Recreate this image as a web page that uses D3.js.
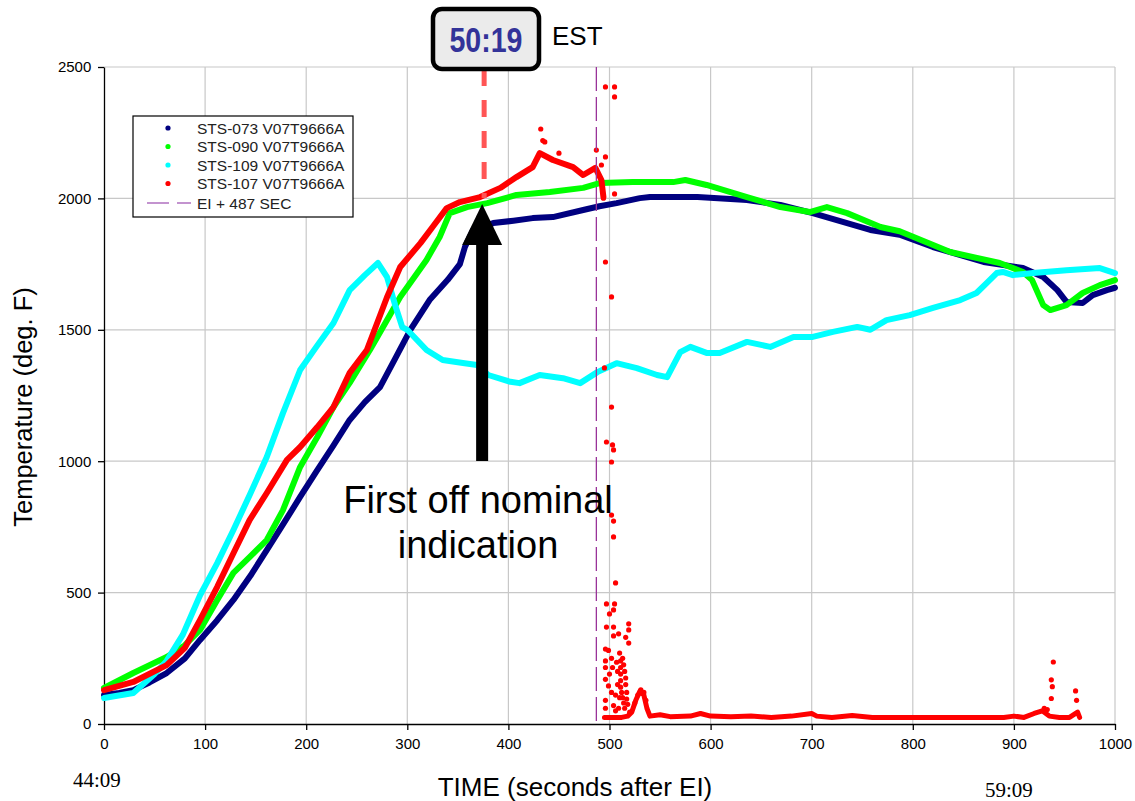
<!DOCTYPE html>
<html><head><meta charset="utf-8">
<script src="https://cdn.jsdelivr.net/npm/d3@7"></script>
<style>body{margin:0;background:#fff;} svg{display:block;}</style>
</head><body>
<svg id="chart" width="1135" height="801"></svg>
<script>
// ---------- data ----------
const xTicks = [0,100,200,300,400,500,600,700,800,900,1000];
const yTicks = [0,500,1000,1500,2000,2500];
const seriesNames = ["STS-073 V07T9666A","STS-090 V07T9666A","STS-109 V07T9666A","STS-107 V07T9666A"];
const seriesColors = ["#000080","#00ff00","#00ffff","#ff0000"];
const eiLabel = "EI + 487 SEC";
const eiTime = 487;
const markTime = 376;
const markLabel = "50:19";

const sts073 = [[0,110],[15,118],[29,129],[45,158],[62,194],[80,250],[95,320],[112,395],[128,472],[145,565],[161,662],[178,765],[194,864],[210,960],[227,1060],[243,1157],[258,1225],[273,1282],[288,1390],[303,1500],[322,1613],[340,1690],[352,1750],[357,1815],[365,1880],[385,1906],[405,1915],[424,1925],[444,1929],[474,1956],[490,1970],[507,1982],[530,2001],[540,2005],[587,2005],[636,1994],[669,1975],[701,1944],[735,1906],[758,1880],[787,1862],[820,1815],[870,1758],[909,1735],[929,1701],[943,1651],[952,1606],[968,1602],[978,1632],[992,1651],[1000,1660]];
const sts090 = [[0,137],[29,194],[62,255],[80,300],[95,358],[112,472],[128,575],[144,635],[161,700],[177,814],[194,978],[211,1092],[227,1206],[243,1298],[263,1423],[293,1625],[319,1766],[332,1853],[342,1944],[359,1967],[379,1982],[408,2013],[441,2024],[474,2040],[491,2059],[523,2062],[563,2062],[575,2070],[596,2051],[636,2005],[669,1967],[698,1948],[715,1967],[735,1944],[768,1891],[787,1875],[837,1796],[886,1754],[909,1720],[918,1689],[929,1594],[936,1575],[952,1594],[968,1640],[985,1670],[1000,1689]];
const sts109 = [[0,99],[29,118],[50,190],[62,240],[78,340],[95,490],[112,612],[128,738],[145,879],[161,1016],[177,1183],[194,1347],[210,1435],[227,1526],[243,1651],[258,1708],[271,1754],[280,1700],[288,1594],[295,1510],[300,1500],[319,1423],[335,1385],[355,1374],[369,1366],[380,1328],[402,1302],[411,1297],[431,1328],[454,1316],[471,1297],[488,1339],[507,1373],[527,1354],[547,1328],[557,1320],[570,1415],[580,1435],[596,1412],[609,1412],[636,1454],[659,1435],[682,1473],[701,1473],[721,1492],[745,1511],[758,1500],[774,1537],[797,1556],[820,1583],[847,1613],[863,1640],[873,1678],[883,1716],[889,1720],[899,1708],[919,1716],[952,1727],[985,1735],[1000,1716]];
const sts107 = [[0,129],[29,160],[62,224],[80,290],[95,396],[112,522],[128,650],[144,776],[161,879],[181,1005],[194,1054],[211,1130],[227,1206],[243,1336],[260,1423],[280,1625],[293,1739],[313,1830],[325,1891],[339,1963],[352,1986],[372,2005],[392,2040],[408,2081],[424,2119],[431,2172],[444,2146],[464,2119],[474,2089],[486,2116],[492,2070],[494,2005]];
const sts107Tail = [[495,25],[505,25],[512,25],[518,30],[522,45],[526,90],[530,125],[534,110],[537,60],[540,30],[550,35],[560,28],[580,30],[590,40],[600,30],[620,28],[640,30],[660,25],[680,30],[700,40],[705,30],[720,25],[740,32],[760,25],[800,25],[850,25],[890,25],[900,30],[910,25],[920,40],[928,50],[935,30],[945,25],[955,25],[963,45],[965,25]];
const sts107Scatter = [[432,2264],[434,2220],[436,2215],[450,2172],[487,2184],[496,2158],[492,2127],[496,2424],[505,2424],[505,2386],[505,2017],[494,2001],[496,1758],[502,1625],[495,1355],[502,1206],[497,1073],[503,1062],[504,1043],[502,997],[502,795],[504,772],[504,712],[506,537],[497,457],[505,457],[504,434],[500,419],[497,369],[504,369],[504,335],[509,343],[519,381],[519,358],[516,330],[519,308],[496,285],[499,280],[496,240],[496,215],[496,170],[499,145],[496,90],[496,60],[502,250],[503,215],[500,190],[502,120],[507,235],[508,200],[508,150],[510,270],[510,100],[511,240],[511,215],[511,190],[511,165],[511,140],[512,120],[513,100],[514,80],[513,250],[514,225],[515,200],[516,175],[516,150],[517,120],[517,95],[518,75],[509,60],[506,50],[515,60],[520,45],[504,70],[506,110],[525,80],[528,110],[531,130],[534,120],[536,90],[939,236],[937,168],[938,142],[937,97],[961,126],[962,90],[930,60],[933,55]];

// ---------- layout ----------
const svg = d3.select("#chart");
const L = 104, R = 1115, T = 67, B = 724;
const x = d3.scaleLinear().domain([0,1000]).range([L,R]);
const y = d3.scaleLinear().domain([0,2500]).range([B,T]);
const sans = "'Liberation Sans', Arial, sans-serif";

// gridlines
svg.append("g").selectAll("line").data(xTicks.slice(1)).join("line")
  .attr("x1",d=>x(d)).attr("x2",d=>x(d)).attr("y1",T).attr("y2",B)
  .attr("stroke","#c8c8c8").attr("stroke-width",1.2);
svg.append("g").selectAll("line").data(yTicks.slice(1)).join("line")
  .attr("x1",L).attr("x2",R).attr("y1",d=>y(d)).attr("y2",d=>y(d))
  .attr("stroke","#c8c8c8").attr("stroke-width",1.2);

// axes
const xAxis = svg.append("g").attr("transform",`translate(0,${B})`)
  .call(d3.axisBottom(x).tickValues(xTicks).tickSize(6).tickSizeOuter(0).tickFormat(d3.format("d")));
const yAxis = svg.append("g").attr("transform",`translate(${L},0)`)
  .call(d3.axisLeft(y).tickValues(yTicks).tickSize(6).tickSizeOuter(0).tickFormat(d3.format("d")));
[xAxis,yAxis].forEach(g=>{
  g.selectAll("path,line").attr("stroke","#000").attr("stroke-width",1.3);
  g.selectAll("text").attr("font-family",sans).attr("font-size",15).attr("fill","#000");
});
xAxis.selectAll("text").attr("dy","1.05em");
yAxis.selectAll("text").attr("dx","-0.25em");

// series lines
const line = d3.line().x(d=>x(d[0])).y(d=>y(d[1]));
const allSeries = [sts073, sts090, sts109, sts107];
allSeries.forEach((s,i)=>{
  svg.append("path").datum(s).attr("d",line).attr("fill","none")
    .attr("stroke",seriesColors[i]).attr("stroke-width",6)
    .attr("stroke-linejoin","round").attr("stroke-linecap","round");
});
svg.append("path").datum(sts107Tail).attr("d",line).attr("fill","none")
  .attr("stroke",seriesColors[3]).attr("stroke-width",5)
  .attr("stroke-linejoin","round").attr("stroke-linecap","round");
svg.append("g").selectAll("circle").data(sts107Scatter).join("circle")
  .attr("cx",d=>x(d[0])).attr("cy",d=>y(d[1])).attr("r",2.6).attr("fill",seriesColors[3]);

// EI + 487 line
svg.append("line").attr("x1",x(eiTime)).attr("x2",x(eiTime)).attr("y1",T).attr("y2",B)
  .attr("stroke","#993399").attr("stroke-width",1.3).attr("stroke-dasharray","24,6");

// red dashed marker line
svg.append("line").attr("x1",x(markTime)).attr("x2",x(markTime)).attr("y1",69).attr("y2",198)
  .attr("stroke","#ff5555").attr("stroke-width",5).attr("stroke-dasharray","17,14");

// arrow
const ax = x(markTime) - 2;
svg.append("rect").attr("x",ax-6).attr("y",240).attr("width",12).attr("height",221).attr("fill","#000");
svg.append("path").attr("d",`M${ax},204 L${ax+20},245 L${ax-20},245 Z`).attr("fill","#000");

// annotation text
svg.append("text").attr("x",478).attr("y",513).attr("text-anchor","middle")
  .attr("font-family",sans).attr("font-size",38).text("First off nominal");
svg.append("text").attr("x",478).attr("y",558).attr("text-anchor","middle")
  .attr("font-family",sans).attr("font-size",38).text("indication");

// time box
svg.append("rect").attr("x",433).attr("y",9).attr("width",106).attr("height",60).attr("rx",9)
  .attr("fill","#ebebeb").attr("stroke","#000").attr("stroke-width",4.5);
svg.append("text").attr("x",486).attr("y",52).attr("text-anchor","middle")
  .attr("font-family","'Liberation Sans Narrow','Arial Narrow',sans-serif").attr("font-weight","bold")
  .attr("font-size",35).attr("fill","#333399").attr("textLength",73).attr("lengthAdjust","spacingAndGlyphs")
  .text(markLabel);
svg.append("text").attr("x",552).attr("y",45).attr("font-family",sans).attr("font-size",26).text("EST");

// legend
const lg = svg.append("g");
lg.append("rect").attr("x",133).attr("y",116).attr("width",220).attr("height",101)
  .attr("fill","#fff").attr("stroke","#000").attr("stroke-width",1.2);
const rowY = [128,146.5,165,183.5,203];
seriesNames.forEach((n,i)=>{
  lg.append("circle").attr("cx",168).attr("cy",rowY[i]).attr("r",2.6).attr("fill",seriesColors[i]);
  lg.append("text").attr("x",197).attr("y",rowY[i]+5.5).attr("font-family",sans).attr("font-size",15.5)
    .attr("fill","#222").text(n);
});
lg.append("line").attr("x1",147).attr("x2",191).attr("y1",rowY[4]).attr("y2",rowY[4])
  .attr("stroke","#b070c0").attr("stroke-width",1.5).attr("stroke-dasharray","22,8");
lg.append("text").attr("x",197).attr("y",rowY[4]+5.5).attr("font-family",sans).attr("font-size",15.5)
  .attr("fill","#222").text(eiLabel);

// axis titles
svg.append("text").attr("x",575).attr("y",796).attr("text-anchor","middle")
  .attr("font-family",sans).attr("font-size",26).text("TIME (seconds after EI)");
svg.append("text").attr("transform","translate(32,407) rotate(-90)").attr("text-anchor","middle")
  .attr("font-family",sans).attr("font-size",25.5).text("Temperature (deg. F)");
svg.append("text").attr("x",73).attr("y",787).attr("font-family","'Liberation Serif','Times New Roman',serif")
  .attr("font-size",21).text("44:09");
svg.append("text").attr("x",985).attr("y",797).attr("font-family","'Liberation Serif','Times New Roman',serif")
  .attr("font-size",21).text("59:09");
</script>
</body></html>
